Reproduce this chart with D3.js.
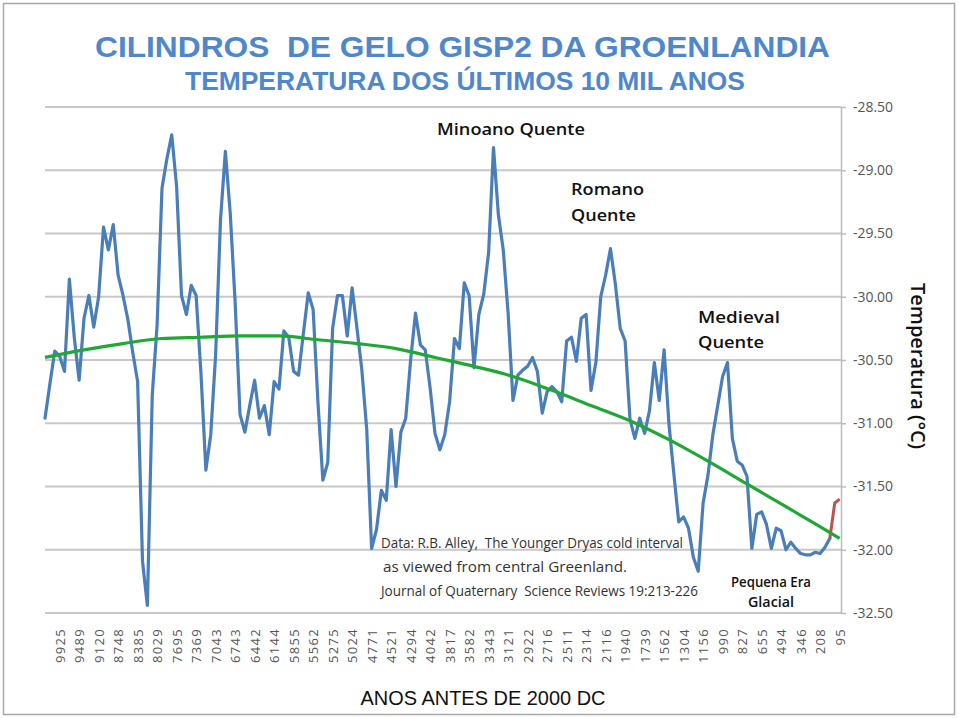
<!DOCTYPE html>
<html><head><meta charset="utf-8">
<script src="https://cdn.jsdelivr.net/npm/d3@7"></script>
<style>body{margin:0;background:#fff;} svg{display:block;} text{white-space:pre;}</style>
</head><body><svg id="c" width="959" height="718"></svg>
<script>
// x-axis category labels (years before 2000)
const tickLabels = ["9925","9489","9120","8748","8385","8029","7695","7369","7043","6743","6442","6144","5855","5562","5275","5024","4771","4521","4294","4042","3817","3582","3343","3121","2922","2716","2511","2314","2116","1940","1739","1562","1304","1156","990","827","655","494","346","208","95"];
// samples between consecutive labels, and sample index of the first label
const samplesPerLabel = 4;
const firstLabelSample = 3;
// GISP2 temperature (°C), evenly sampled along the axis
const temperature = [
-30.96,-30.69,-30.43,-30.47,-30.59,-29.86,-30.32,-30.66,-30.17,-29.99,
-30.24,-30.00,-29.45,-29.63,-29.43,-29.83,-29.99,-30.18,-30.44,-30.67,
-32.09,-32.44,-30.78,-30.22,-29.14,-28.91,-28.72,-29.13,-29.99,-30.14,
-29.91,-29.99,-30.61,-31.37,-31.09,-30.46,-29.39,-28.85,-29.34,-30.04,
-30.93,-31.07,-30.86,-30.66,-30.96,-30.86,-31.09,-30.67,-30.73,-30.27,
-30.32,-30.59,-30.62,-30.29,-29.97,-30.10,-30.84,-31.45,-31.31,-30.25,
-29.99,-29.99,-30.31,-29.93,-30.25,-30.58,-31.05,-31.99,-31.84,-31.53,
-31.61,-31.05,-31.50,-31.07,-30.96,-30.50,-30.13,-30.38,-30.42,-30.72,
-31.08,-31.21,-31.09,-30.83,-30.33,-30.41,-29.89,-29.99,-30.56,-30.14,
-29.98,-29.65,-28.82,-29.35,-29.63,-30.13,-30.82,-30.62,-30.58,-30.55,
-30.48,-30.59,-30.92,-30.75,-30.71,-30.75,-30.83,-30.35,-30.32,-30.51,
-30.17,-30.14,-30.74,-30.52,-30.00,-29.83,-29.62,-29.90,-30.25,-30.35,
-30.97,-31.12,-30.96,-31.08,-30.90,-30.52,-30.82,-30.42,-31.01,-31.40,
-31.78,-31.74,-31.83,-32.06,-32.17,-31.63,-31.41,-31.09,-30.86,-30.63,
-30.52,-31.12,-31.30,-31.33,-31.42,-31.99,-31.72,-31.70,-31.80,-31.99,
-31.83,-31.85,-32.00,-31.94,-31.99,-32.03,-32.04,-32.04,-32.02,-32.03,
-31.98,-31.91];
// most recent segment (red), starting at sample index below
const recentStart = 161;
const recent = [-31.91,-31.63,-31.60];
// long-term trend (green), at these sample indices
const trendIdx = [0,8,16,24,32,40,48,56,64,72,80,88,96,104,112,120,128,136,144,152,160,163];
const trend = [-30.48,-30.42,-30.37,-30.33,-30.32,-30.31,-30.31,-30.34,-30.37,-30.41,-30.48,-30.55,-30.63,-30.74,-30.86,-30.98,-31.13,-31.30,-31.48,-31.66,-31.84,-31.91];
const yTicks = [-28.5,-29.0,-29.5,-30.0,-30.5,-31.0,-31.5,-32.0,-32.5];

const svg = d3.select("#c");
const lastSample = recentStart + recent.length - 1;
const x = d3.scaleLinear().domain([0, lastSample]).range([45, 839.6]);
const y = d3.scaleLinear().domain([-28.5, -32.5]).range([107, 613]);
const plotRight = 841;
const fmt = d => d3.format(".2f")(d).replace("\u2212","-");

// outer frame
svg.append("rect").attr("x",3.5).attr("y",3.5).attr("width",951).attr("height",711)
  .attr("fill","none").attr("stroke","#a8a8a8").attr("stroke-width",1.5);

// gridlines
svg.append("g").selectAll("line").data(yTicks).join("line")
  .attr("x1",45).attr("x2",plotRight).attr("y1",d=>y(d)).attr("y2",d=>y(d))
  .attr("stroke","#c8c8c8").attr("stroke-width",2);

// right axis
const yAxis = svg.append("g").attr("transform",`translate(${plotRight},0)`)
  .call(d3.axisRight(y).tickValues(yTicks).tickSize(5).tickSizeOuter(0).tickFormat(fmt));
yAxis.select(".domain").attr("stroke","#bcbcbc").attr("stroke-width",1.5);
yAxis.selectAll(".tick line").attr("stroke","#bcbcbc").attr("stroke-width",1.5);
yAxis.selectAll(".tick text").attr("x",12).attr("fill","#555")
  .attr("textLength",40).attr("lengthAdjust","spacingAndGlyphs")
  .style("font-family","'Open Sans', 'Noto Sans', sans-serif").style("font-size","14px");

// bottom axis with category labels
const tickIdx = tickLabels.map((_,i)=>firstLabelSample + i*samplesPerLabel);
const xAxis = svg.append("g").attr("transform","translate(0,622)")
  .call(d3.axisBottom(x).tickValues(tickIdx).tickSize(0).tickFormat((d,i)=>tickLabels[i]));
xAxis.select(".domain").remove();
xAxis.selectAll(".tick text")
  .attr("transform","rotate(-90)").attr("text-anchor","end")
  .attr("x",-6).attr("y",0).attr("dy","0.36em")
  .attr("fill","#555").style("letter-spacing","1.3px")
  .style("font-family","'Open Sans', 'Noto Sans', sans-serif").style("font-size","13px");

// data lines
const line = d3.line().x(d=>x(d[0])).y(d=>y(d[1]));
svg.append("path").datum(temperature.map((v,i)=>[i,v]))
  .attr("d",line).attr("fill","none").attr("stroke","#4a7ebb").attr("stroke-width",3.2)
  .attr("stroke-linejoin","round").attr("stroke-linecap","round");
svg.append("path").datum(recent.map((v,i)=>[recentStart+i,v]))
  .attr("d",line).attr("fill","none").attr("stroke","#c0504d").attr("stroke-width",3)
  .attr("stroke-linejoin","round");
svg.append("path").datum(trend.map((v,i)=>[trendIdx[i],v]))
  .attr("d",line.curve(d3.curveMonotoneX)).attr("fill","none").attr("stroke","#1fa834").attr("stroke-width",3.2);

// titles
const title = svg.append("g").attr("fill","#4f87cc").attr("font-weight","bold")
  .style("font-family","'Liberation Sans Narrow', 'Liberation Sans', Arial, sans-serif");
title.append("text").attr("x",95).attr("y",57).attr("font-size",30)
  .attr("textLength",735).attr("lengthAdjust","spacingAndGlyphs")
  .text("CILINDROS  DE GELO GISP2 DA GROENLANDIA");
title.append("text").attr("x",185).attr("y",90).attr("font-size",25)
  .attr("textLength",560).attr("lengthAdjust","spacingAndGlyphs")
  .text("TEMPERATURA DOS ÚLTIMOS 10 MIL ANOS");

// annotations
const ann = svg.append("g").attr("fill","#111")
  .style("font-family","'Open Sans', 'Noto Sans', sans-serif");
function t(xp, yp, s, size, len, anchor, weight){
  const el = ann.append("text").attr("x",xp).attr("y",yp).attr("font-size",size).text(s);
  if (len) el.attr("textLength",len).attr("lengthAdjust","spacingAndGlyphs");
  if (anchor) el.attr("text-anchor",anchor);
  if (weight) el.attr("font-weight",weight);
  return el;
}
t(437,135,"Minoano Quente",17,148,null,600);
t(571,195,"Romano",17,73,null,600);
t(571,221,"Quente",17,65,null,600);
t(698,323,"Medieval",17,82,null,600);
t(698,348,"Quente",17,66,null,600);
t(771,587,"Pequena Era",14,80,"middle",600);
t(771,607,"Glacial",14,46,"middle",600);
t(381,548,"Data: R.B. Alley,  The Younger Dryas cold interval",15,302).attr("fill","#333");
t(383,572,"as viewed from central Greenland.",15,244).attr("fill","#333");
t(381,596,"Journal of Quaternary  Science Reviews 19:213-226",15,317).attr("fill","#333");

// axis titles
svg.append("text").attr("x",483).attr("y",705).attr("text-anchor","middle")
  .attr("font-size",21).attr("fill","#111").attr("textLength",245).attr("lengthAdjust","spacingAndGlyphs")
  .style("font-family","'Liberation Sans', Arial, sans-serif").text("ANOS ANTES DE 2000 DC");
svg.append("text").attr("transform","translate(911,366) rotate(90)").attr("text-anchor","middle")
  .attr("font-size",19).attr("font-weight",600).attr("fill","#111").attr("textLength",166).attr("lengthAdjust","spacingAndGlyphs")
  .style("font-family","'Open Sans', 'Noto Sans', sans-serif").text("Temperatura (°C)");
</script></body></html>
